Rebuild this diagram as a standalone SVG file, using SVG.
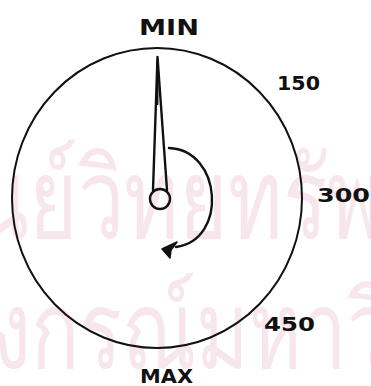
<svg xmlns="http://www.w3.org/2000/svg" width="371" height="386" viewBox="0 0 371 386">
<defs>
<style>
.ink{fill:none;stroke:#111;stroke-linecap:round;stroke-linejoin:round}
.lbl{font-family:"DejaVu Sans","Liberation Sans",sans-serif;font-weight:bold;fill:#111}
.wm{font-family:"Noto Sans","DejaVu Sans",sans-serif;fill:#f8e6ed}
</style>
</defs>
<rect width="371" height="386" fill="#fff"/>
<g id="watermark">
<text class="wm" x="-28" y="238" font-size="112" textLength="410" lengthAdjust="spacingAndGlyphs">นย์วิทยทรัพ</text>
<text class="wm" x="-8" y="368" font-size="108" textLength="400" lengthAdjust="spacingAndGlyphs">งกรณ์มหาวิ</text>
</g>
<g id="dial">
<ellipse class="ink" cx="157" cy="198" rx="145" ry="150" stroke-width="2"/>
</g>
<g id="needle">
<path class="ink" d="M153,190 L157.5,57 L167,190" stroke-width="2.4" fill="#fff"/>
<path d="M156.3,62 L157.5,57 L158.8,62 L158.4,105 L156.7,105 Z" fill="#111"/>
<circle class="ink" cx="160" cy="199" r="10" stroke-width="2.4" fill="#fff"/>
</g>
<g id="connectors">
<path class="ink" d="M169,148 C222,150 228,240 176,247" stroke-width="2.4"/>
<path d="M177,242 L162,249 L170,258 L171,250 Z" fill="#111" stroke="#111" stroke-width="1.5" stroke-linejoin="round"/>
</g>
<g id="labels">
<text class="lbl" x="139" y="35" font-size="21" textLength="60" lengthAdjust="spacingAndGlyphs">MIN</text>
<text class="lbl" x="277" y="90" font-size="20" textLength="43" lengthAdjust="spacingAndGlyphs">150</text>
<text class="lbl" x="317" y="202" font-size="20" textLength="53" lengthAdjust="spacingAndGlyphs">300</text>
<text class="lbl" x="264" y="331" font-size="19" textLength="51" lengthAdjust="spacingAndGlyphs">450</text>
<text class="lbl" x="140" y="383" font-size="20" textLength="53" lengthAdjust="spacingAndGlyphs">MAX</text>
</g>
</svg>
